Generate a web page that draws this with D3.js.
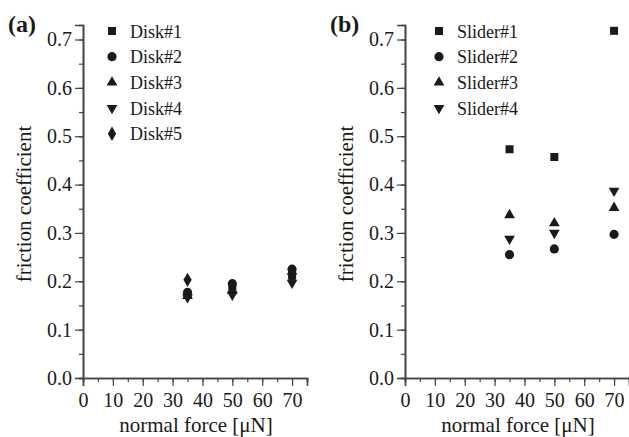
<!DOCTYPE html>
<html><head><meta charset="utf-8">
<script src="https://cdn.jsdelivr.net/npm/d3@7"></script>
<style>body{margin:0;background:#fff}svg{display:block}</style>
</head><body>
<svg id="c" width="629" height="437"></svg>
<script>
const forces = [35, 50, 70];
const diskNames = ["Disk#1","Disk#2","Disk#3","Disk#4","Disk#5"];
const disk1 = [0.172, 0.185, 0.215];
const disk2 = [0.177, 0.195, 0.225];
const disk3 = [0.170, 0.180, 0.220];
const disk4 = [0.167, 0.172, 0.197];
const disk5 = [0.203, 0.178, 0.205];
const sliderNames = ["Slider#1","Slider#2","Slider#3","Slider#4"];
const slider1 = [0.473, 0.457, 0.718];
const slider2 = [0.255, 0.267, 0.297];
const slider3 = [0.337, 0.320, 0.352];
const slider4 = [0.288, 0.300, 0.387];
const xTicks = [0,10,20,30,40,50,60,70];
const yTicks = [0.0,0.1,0.2,0.3,0.4,0.5,0.6,0.7];

const svg = d3.select("#c");
const font = "Liberation Serif, serif";
const ink = "#1a1a1a";
const symTypes = [
  {t: d3.symbolSquare, s: 64, r: 0},
  {t: d3.symbolCircle, s: 66, r: 0},
  {t: d3.symbolTriangle, s: 50, r: 0},
  {t: d3.symbolTriangle, s: 50, r: 180},
  {t: d3.symbolDiamond, s: 60, r: 0}
];
function txt(sel, size, weight) {
  return sel.style("font-family", font).style("font-size", size + "px")
    .style("font-weight", weight || "normal").style("fill", ink);
}

function panel(ox, label, names, series, legX) {
  const x = d3.scaleLinear().domain([0, 75]).range([ox, ox + 224]);
  const y = d3.scaleLinear().domain([0, 0.73]).range([378, 25]);
  const g = svg.append("g");
  const xa = d3.axisBottom(x).tickValues(d3.range(0, 76, 5)).tickSize(4).tickFormat("");
  g.append("g").attr("transform","translate(0,378)").call(xa);
  const xb = d3.axisBottom(x).tickValues(xTicks).tickSize(8).tickPadding(7).tickFormat(d3.format("d"));
  const gx = g.append("g").attr("transform","translate(0,378)").call(xb);
  const ya = d3.axisLeft(y).tickValues(d3.range(0, 0.726, 0.05)).tickSize(4).tickFormat("");
  g.append("g").attr("transform",`translate(${ox},0)`).call(ya);
  const yb = d3.axisLeft(y).tickValues(yTicks).tickSize(8).tickPadding(3).tickFormat(d3.format(".1f"));
  const gy = g.append("g").attr("transform",`translate(${ox},0)`).call(yb);
  g.selectAll(".domain").attr("stroke","#444").attr("stroke-width",1.6);
  g.selectAll(".tick line").attr("stroke","#444").attr("stroke-width",1.2);
  txt(g.selectAll(".tick text"), 20);
  gx.selectAll(".tick text").attr("dy","0.71em");
  series.forEach((vals, i) => {
    const st = symTypes[i];
    const sym = d3.symbol().type(st.t).size(st.s);
    g.selectAll(null).data(vals).enter().append("path")
      .attr("d", sym)
      .attr("transform", (d, j) => `translate(${x(forces[j])},${y(d)}) rotate(${st.r})`)
      .attr("fill", ink);
    const ly = 31 + i * 25.7;
    g.append("path").attr("d", sym).attr("transform", `translate(${legX},${ly}) rotate(${st.r})`).attr("fill", ink);
    txt(g.append("text").attr("x", legX + 18).attr("y", ly + 6.5).text(names[i]), 18);
  });
  txt(g.append("text").attr("x", ox + 113).attr("y", 432).attr("text-anchor","middle")
    .text("normal force [\u03BCN]"), 21);
  txt(g.append("text").attr("transform", `translate(${ox - 52},${204}) rotate(-90)`).attr("text-anchor","middle")
    .text("friction coefficient"), 21);
  txt(g.append("text").attr("x", ox - 75).attr("y", 32).text(label), 24, "bold");
}

panel(83, "(a)", diskNames, [disk1, disk2, disk3, disk4, disk5], 112);
panel(405, "(b)", sliderNames, [slider1, slider2, slider3, slider4], 439);
</script>
</body></html>
